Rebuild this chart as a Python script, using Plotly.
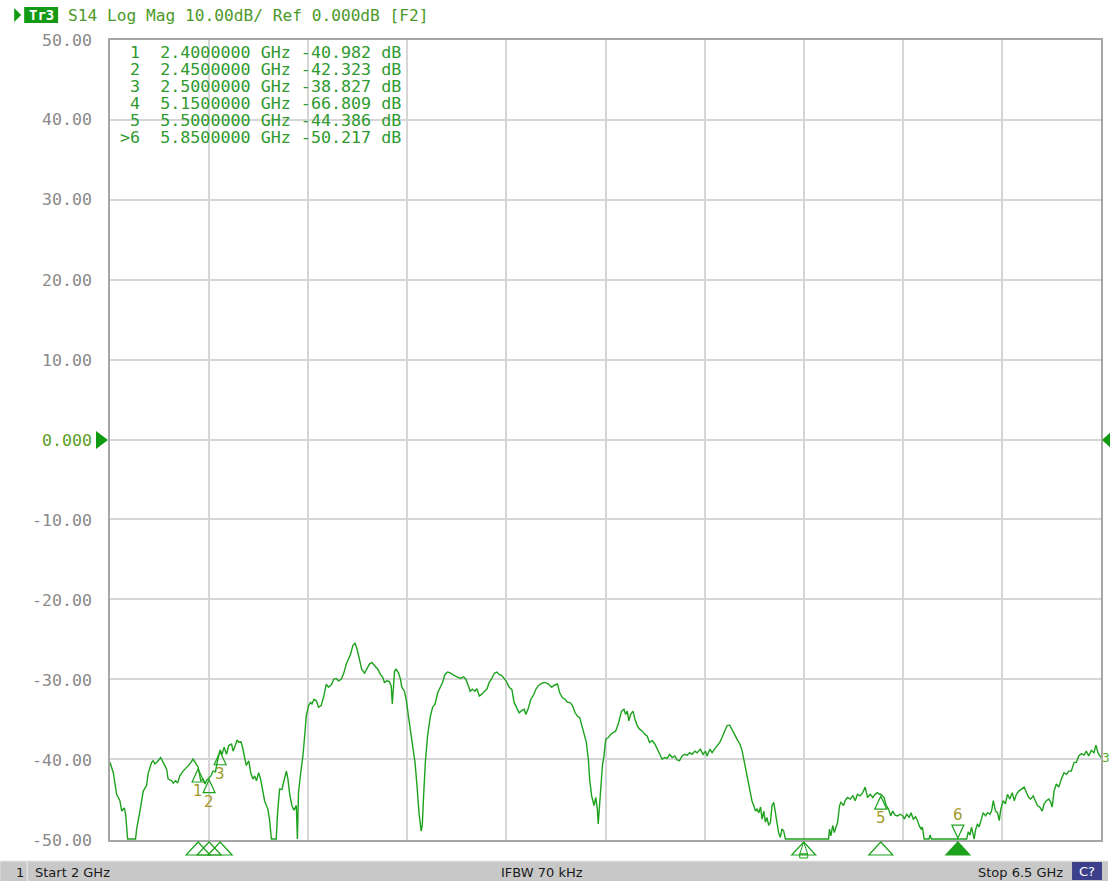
import plotly.graph_objects as go

# ---------------- data ----------------
freq_ghz = [
    2.000, 2.015, 2.030, 2.045, 2.053, 2.065, 2.071, 2.080, 2.116, 2.121,
    2.136, 2.151, 2.166, 2.174, 2.189, 2.196, 2.204, 2.216, 2.230, 2.242,
    2.257, 2.264, 2.280, 2.287, 2.298, 2.307, 2.317, 2.332, 2.348, 2.363,
    2.377, 2.388, 2.400, 2.412, 2.423, 2.431, 2.438, 2.450, 2.458, 2.468,
    2.479, 2.488, 2.500, 2.509, 2.518, 2.529, 2.539, 2.552, 2.559, 2.566,
    2.577, 2.585, 2.594, 2.600, 2.609, 2.619, 2.630, 2.639, 2.649, 2.657,
    2.665, 2.675, 2.684, 2.695, 2.702, 2.710, 2.717, 2.725, 2.733, 2.755,
    2.760, 2.770, 2.781, 2.790, 2.801, 2.808, 2.816, 2.826, 2.835, 2.842,
    2.846, 2.851, 2.856, 2.866, 2.876, 2.884, 2.891, 2.902, 2.911, 2.917,
    2.926, 2.937, 2.947, 2.959, 2.971, 2.982, 2.992, 3.005, 3.016, 3.027,
    3.038, 3.050, 3.062, 3.073, 3.083, 3.092, 3.103, 3.113, 3.122, 3.133,
    3.143, 3.156, 3.168, 3.178, 3.189, 3.201, 3.216, 3.228, 3.239, 3.246,
    3.258, 3.269, 3.277, 3.282, 3.287, 3.292, 3.299, 3.310, 3.319, 3.325,
    3.337, 3.346, 3.355, 3.364, 3.374, 3.385, 3.394, 3.403, 3.413, 3.418,
    3.424, 3.432, 3.442, 3.455, 3.465, 3.476, 3.488, 3.500, 3.510, 3.521,
    3.533, 3.545, 3.560, 3.576, 3.591, 3.606, 3.616, 3.627, 3.636, 3.646,
    3.657, 3.666, 3.677, 3.687, 3.699, 3.712, 3.722, 3.732, 3.745, 3.757,
    3.767, 3.778, 3.787, 3.798, 3.813, 3.825, 3.835, 3.846, 3.858, 3.870,
    3.881, 3.888, 3.900, 3.911, 3.921, 3.934, 3.945, 3.961, 3.976, 3.991,
    4.006, 4.017, 4.032, 4.042, 4.054, 4.066, 4.077, 4.088, 4.100, 4.112,
    4.122, 4.133, 4.142, 4.153, 4.163, 4.172, 4.178, 4.187, 4.198, 4.206,
    4.213, 4.217, 4.224, 4.230, 4.236, 4.243, 4.251, 4.263, 4.274, 4.284,
    4.296, 4.308, 4.314, 4.323, 4.334, 4.341, 4.349, 4.356, 4.364, 4.375,
    4.384, 4.394, 4.405, 4.417, 4.429, 4.439, 4.450, 4.462, 4.474, 4.485,
    4.496, 4.507, 4.520, 4.530, 4.541, 4.553, 4.565, 4.575, 4.586, 4.598,
    4.610, 4.621, 4.632, 4.643, 4.656, 4.666, 4.681, 4.693, 4.704, 4.711,
    4.724, 4.734, 4.745, 4.757, 4.769, 4.779, 4.790, 4.802, 4.814, 4.825,
    4.836, 4.847, 4.860, 4.870, 4.878, 4.885, 4.893, 4.900, 4.908, 4.915,
    4.923, 4.931, 4.938, 4.946, 4.954, 4.961, 4.969, 4.976, 4.983, 4.991,
    4.999, 5.006, 5.014, 5.021, 5.029, 5.036, 5.044, 5.051, 5.059, 5.067,
    5.263, 5.267, 5.273, 5.282, 5.289, 5.298, 5.304, 5.313, 5.319, 5.331,
    5.338, 5.349, 5.361, 5.373, 5.384, 5.394, 5.406, 5.418, 5.429, 5.440,
    5.452, 5.464, 5.474, 5.485, 5.494, 5.500, 5.515, 5.524, 5.535, 5.545,
    5.554, 5.565, 5.576, 5.588, 5.600, 5.607, 5.618, 5.629, 5.637, 5.648,
    5.658, 5.667, 5.674, 5.683, 5.689, 5.697, 5.719, 5.724, 5.730, 5.890,
    5.897, 5.905, 5.912, 5.924, 5.930, 5.939, 5.946, 5.955, 5.965, 5.976,
    5.985, 5.996, 6.003, 6.011, 6.021, 6.030, 6.038, 6.045, 6.056, 6.066,
    6.075, 6.086, 6.097, 6.106, 6.116, 6.127, 6.139, 6.151, 6.162, 6.172,
    6.181, 6.192, 6.202, 6.211, 6.222, 6.233, 6.242, 6.252, 6.263, 6.272,
    6.278, 6.287, 6.297, 6.308, 6.320, 6.332, 6.343, 6.354, 6.365, 6.378,
    6.388, 6.399, 6.411, 6.423, 6.433, 6.444, 6.456, 6.468, 6.477, 6.486,
    6.500,
]

s14_db = [
    -40.4, -41.7, -44.4, -45.2, -46.5, -46.1, -46.9, -50.0, -50.0, -48.75,
    -46.5, -44.0, -43.3, -41.7, -40.4, -40.2, -40.6, -40.3, -39.8, -40.4,
    -41.25, -42.5, -42.7, -43.0, -42.7, -43.0, -42.1, -41.5, -41.0, -40.6,
    -40.0, -40.4, -40.98, -42.7, -42.5, -43.1, -42.7, -42.32, -42.1, -41.5,
    -41.6, -40.2, -38.83, -39.4, -38.5, -39.4, -38.3, -38.1, -39.0, -38.5,
    -37.6, -37.9, -37.8, -38.3, -39.6, -40.8, -40.2, -41.7, -42.5, -42.1,
    -42.7, -41.7, -42.5, -44.2, -45.2, -45.8, -46.25, -47.7, -50.0, -50.0,
    -47.1, -43.75, -43.8, -42.7, -41.5, -42.5, -44.4, -45.8, -46.4, -46.0,
    -45.8, -50.0, -44.2, -41.7, -39.6, -37.1, -34.6, -33.3, -32.9, -33.1,
    -32.5, -32.7, -33.5, -33.3, -32.1, -30.6, -31.0, -30.7, -30.0, -29.9,
    -30.2, -30.0, -29.2, -28.1, -27.5, -26.9, -25.75, -25.5, -26.25, -27.7,
    -28.75, -29.25, -28.5, -28.1, -27.9, -28.3, -28.75, -29.4, -29.8, -30.4,
    -30.2, -30.3, -30.9, -33.1, -31.25, -29.0, -28.75, -29.2, -30.0, -31.0,
    -31.5, -32.7, -34.6, -36.25, -38.3, -40.4, -43.3, -46.7, -49.0, -48.3,
    -44.6, -40.4, -37.1, -34.6, -33.5, -33.1, -31.7, -31.0, -30.4, -29.4,
    -29.1, -29.2, -29.5, -29.7, -29.9, -29.7, -30.0, -30.8, -31.5, -31.25,
    -31.5, -31.2, -32.1, -31.9, -31.5, -31.2, -30.4, -30.0, -29.25, -29.1,
    -29.4, -29.5, -29.8, -30.2, -31.0, -31.3, -32.9, -33.5, -34.2, -33.9,
    -33.75, -34.4, -33.6, -32.5, -32.1, -31.25, -30.8, -30.5, -30.4, -30.6,
    -31.0, -30.75, -30.6, -31.7, -32.3, -32.5, -32.9, -32.9, -33.3, -34.2,
    -34.6, -34.8, -35.8, -36.9, -37.9, -40.0, -42.5, -44.6, -45.8, -44.8,
    -46.25, -48.1, -45.0, -42.5, -40.8, -39.6, -37.5, -37.3, -36.9, -36.7,
    -36.5, -35.6, -35.0, -34.0, -33.75, -34.4, -34.0, -35.2, -34.4, -34.0,
    -35.0, -35.8, -36.25, -36.5, -36.9, -37.1, -37.9, -37.7, -38.1, -38.75,
    -39.4, -40.0, -39.8, -39.9, -39.4, -39.8, -39.6, -40.1, -40.2, -39.6,
    -39.4, -39.5, -39.2, -39.4, -39.0, -39.2, -38.75, -39.4, -39.0, -39.6,
    -38.75, -39.2, -38.75, -38.3, -37.9, -37.3, -36.5, -35.8, -35.75, -36.25,
    -36.9, -37.5, -38.1, -38.9, -40.0, -41.0, -42.5, -43.5, -44.6, -45.2,
    -45.8, -46.5, -46.25, -46.7, -46.0, -47.5, -46.5, -47.9, -47.3, -48.3,
    -47.9, -45.8, -45.4, -46.7, -47.9, -49.2, -49.8, -48.75, -49.0, -50.0,
    -50.0, -48.75, -49.6, -48.3, -49.2, -48.3, -47.9, -45.8, -45.4, -45.8,
    -45.2, -44.8, -45.0, -44.6, -45.2, -44.4, -44.6, -44.2, -43.5, -44.8,
    -44.4, -44.8, -44.4, -44.2, -44.4, -44.39, -44.8, -45.8, -46.25, -47.1,
    -46.5, -47.0, -47.1, -46.9, -47.1, -47.5, -46.9, -47.3, -46.7, -47.5,
    -47.2, -47.7, -48.3, -48.75, -48.5, -50.0, -50.0, -49.5, -50.0, -50.0,
    -49.1, -49.5, -48.5, -50.0, -48.9, -48.1, -48.5, -47.7, -46.7, -47.1,
    -46.7, -46.9, -46.5, -45.2, -46.5, -46.7, -47.7, -46.25, -45.2, -45.6,
    -44.4, -45.0, -44.2, -45.2, -44.4, -44.0, -43.75, -43.5, -44.2, -44.8,
    -45.0, -44.6, -45.2, -45.8, -46.0, -46.5, -45.6, -45.2, -45.0, -45.4,
    -46.0, -44.0, -43.1, -43.5, -42.5, -41.7, -41.9, -41.5, -41.5, -40.4,
    -40.4, -39.6, -39.3, -39.5, -39.0, -39.6, -38.9, -39.2, -38.25, -39.2,
    -39.8,
]

marker_ids = ["1", "2", "3", "4", "5", "6"]
marker_freq_ghz = [2.40, 2.45, 2.50, 5.15, 5.50, 5.85]
marker_db = [-40.982, -42.323, -38.827, -66.809, -44.386, -50.217]
active_marker = "6"

y_tick_vals = [50, 40, 30, 20, 10, 0, -10, -20, -30, -40, -50]
y_tick_text = ["50.00", "40.00", "30.00", "20.00", "10.00", "0.000",
               "-10.00", "-20.00", "-30.00", "-40.00", "-50.00"]

x_start_ghz, x_stop_ghz, x_div_ghz = 2.0, 6.5, 0.45
y_bottom, y_top = -50, 50

header_text = "S14 Log Mag 10.00dB/ Ref 0.000dB [F2]"
trace_tag = "Tr3"
status_left = "Start 2 GHz"
status_mid = "IFBW 70 kHz"
status_right = "Stop 6.5 GHz"
channel_no = "1"

# ---------------- layout geometry ----------------
W, H = 1110, 881
ML, MR, MT, MB = 110, 7, 40, 41
PW, PH = W - ML - MR, H - MT - MB

def px(x):
    return (x - ML) / PW

def py(y):
    return (H - MB - y) / PH

TRACE = "#1ea21e"
GREEN_TXT = "#2f9a2f"
MARK_TXT = "#a39a2a"
GRID = "#d6d6d6"
AXLINE = "#a6a6a6"
MONO = "DejaVu Sans Mono"

NB = "\u00a0"

fig = go.Figure()

disp_db = [max(v, y_bottom) for v in s14_db]
fig.add_trace(go.Scatter(x=freq_ghz, y=disp_db, mode="lines",
                         line=dict(color=TRACE, width=1.4),
                         hoverinfo="skip", showlegend=False))

shapes = []
annotations = []

# markers on trace
for mid, f, d in zip(marker_ids, marker_freq_ghz, marker_db):
    if d < y_bottom - 0.5:
        continue  # off-scale marker (shown only at the bottom)
    if d <= y_bottom:
        yd = y_bottom
        shapes.append(dict(type="path", xref="x", yref="y",
                           xsizemode="pixel", ysizemode="pixel",
                           xanchor=f, yanchor=yd,
                           path="M0,1 L-6,14 L6,14 Z",
                           line=dict(color=TRACE, width=1.2),
                           fillcolor="rgba(0,0,0,0)"))
        annotations.append(dict(x=f, y=yd, xref="x", yref="y", text=mid,
                                showarrow=False, yshift=24,
                                font=dict(family="DejaVu Sans", size=15, color=MARK_TXT)))
    else:
        shapes.append(dict(type="path", xref="x", yref="y",
                           xsizemode="pixel", ysizemode="pixel",
                           xanchor=f, yanchor=d,
                           path="M0,-2 L-6,-15 L6,-15 Z",
                           line=dict(color=TRACE, width=1.2),
                           fillcolor="rgba(0,0,0,0)"))
        annotations.append(dict(x=f, y=d, xref="x", yref="y", text=mid,
                                showarrow=False, yshift=-24,
                                font=dict(family="DejaVu Sans", size=15, color=MARK_TXT)))

# bottom stimulus indicators
for mid, f, d in zip(marker_ids, marker_freq_ghz, marker_db):
    filled = (mid == active_marker)
    shapes.append(dict(type="path", xref="x", yref="paper",
                       xsizemode="pixel", ysizemode="pixel",
                       xanchor=f, yanchor=0,
                       path="M0,-2 L-12,-15 L12,-15 Z",
                       line=dict(color=TRACE, width=1.2),
                       fillcolor=TRACE if filled else "rgba(0,0,0,0)"))
    if d < y_bottom - 0.5:
        shapes.append(dict(type="path", xref="x", yref="paper",
                           xsizemode="pixel", ysizemode="pixel",
                           xanchor=f, yanchor=0,
                           path="M0,-2 L-4,-14 L4,-14 Z",
                           line=dict(color=TRACE, width=1.0),
                           fillcolor="rgba(0,0,0,0)"))
        shapes.append(dict(type="path", xref="x", yref="paper",
                           xsizemode="pixel", ysizemode="pixel",
                           xanchor=f, yanchor=0,
                           path="M-4,-14 L4,-14 L4,-18 L-4,-18 Z",
                           line=dict(color=TRACE, width=1.0),
                           fillcolor="rgba(0,0,0,0)"))

# reference level arrows (0 dB)
shapes.append(dict(type="path", xref="paper", yref="paper",
                   path=f"M{px(96)},{py(431)} L{px(108)},{py(440)} L{px(96)},{py(449)} Z",
                   line=dict(color="#109a10", width=0), fillcolor="#109a10"))
shapes.append(dict(type="path", xref="paper", yref="paper",
                   path=f"M{px(1113)},{py(432)} L{px(1104)},{py(440)} L{px(1113)},{py(448)} Z",
                   line=dict(color="#109a10", width=0), fillcolor="#109a10"))

# header
shapes.append(dict(type="path", xref="paper", yref="paper",
                   path=f"M{px(14)},{py(8)} L{px(21)},{py(15)} L{px(14)},{py(22)} Z",
                   line=dict(color="#109a10", width=0), fillcolor="#109a10"))
shapes.append(dict(type="rect", xref="paper", yref="paper",
                   x0=px(24), x1=px(58), y0=py(23), y1=py(7),
                   line=dict(width=0), fillcolor="#159a15"))
annotations.append(dict(x=px(41), y=py(15), xref="paper", yref="paper",
                        text=f"<b>{trace_tag}</b>", showarrow=False,
                        xanchor="center", yanchor="middle",
                        font=dict(family=MONO, size=14, color="white")))
annotations.append(dict(x=px(66), y=py(15), xref="paper", yref="paper",
                        text=header_text.replace(" ", NB), showarrow=False,
                        xanchor="left", yanchor="middle",
                        font=dict(family=MONO, size=16.2, color="#4c9a2a")))

# marker table
for i, (mid, f, d) in enumerate(zip(marker_ids, marker_freq_ghz, marker_db)):
    prefix = ">" if mid == active_marker else " "
    row = f"{prefix}{mid}  {f:.7f} GHz {d:.3f} dB"
    annotations.append(dict(x=px(118), y=py(52 + 17 * i), xref="paper", yref="paper",
                            text=row.replace(" ", NB), showarrow=False,
                            xanchor="left", yanchor="middle",
                            font=dict(family=MONO, size=16.7, color=GREEN_TXT)))

# y tick labels
for v, t in zip(y_tick_vals, y_tick_text):
    col = "#5a9e22" if v == 0 else "#8a8a8a"
    annotations.append(dict(x=px(94), y=py(40 + (y_top - v) * 8), xref="paper", yref="paper",
                            text=t, showarrow=False, xanchor="right", yanchor="middle",
                            font=dict(family=MONO, size=16.6, color=col)))

# trace end tag
annotations.append(dict(x=px(1102), y=py(758), xref="paper", yref="paper",
                        text="3", showarrow=False, xanchor="left", yanchor="middle",
                        font=dict(family="DejaVu Sans", size=12, color="#4caa2a")))

# status bar
shapes.append(dict(type="rect", xref="paper", yref="paper",
                   x0=px(0), x1=px(1110), y0=py(881), y1=py(861),
                   line=dict(width=0), fillcolor="#c8c8c8", layer="above"))
shapes.append(dict(type="line", xref="paper", yref="paper",
                   x0=px(0), x1=px(1110), y0=py(861), y1=py(861),
                   line=dict(color="#e8e8e8", width=1)))
shapes.append(dict(type="line", xref="paper", yref="paper",
                   x0=px(27), x1=px(27), y0=py(881), y1=py(862),
                   line=dict(color="#f0f0f0", width=1)))
shapes.append(dict(type="rect", xref="paper", yref="paper",
                   x0=px(1074), x1=px(1104), y0=py(880), y1=py(862),
                   line=dict(width=0), fillcolor="#3c3f8a"))
bar_font = dict(family="DejaVu Sans", size=13, color="#1a1a1a")
annotations.append(dict(x=px(14), y=py(872), xref="paper", yref="paper", text=channel_no,
                        showarrow=False, xanchor="left", yanchor="middle", font=bar_font))
annotations.append(dict(x=px(33), y=py(872), xref="paper", yref="paper", text=status_left,
                        showarrow=False, xanchor="left", yanchor="middle", font=bar_font))
annotations.append(dict(x=px(543), y=py(872), xref="paper", yref="paper", text=status_mid,
                        showarrow=False, xanchor="center", yanchor="middle", font=bar_font))
annotations.append(dict(x=px(1067), y=py(872), xref="paper", yref="paper", text=status_right,
                        showarrow=False, xanchor="right", yanchor="middle", font=bar_font))
annotations.append(dict(x=px(1089), y=py(871), xref="paper", yref="paper", text="C?",
                        showarrow=False, xanchor="center", yanchor="middle",
                        font=dict(family="DejaVu Sans", size=13, color="white")))

fig.update_layout(
    width=W, height=H,
    margin=dict(l=ML, r=MR, t=MT, b=MB, pad=0),
    paper_bgcolor="white", plot_bgcolor="white",
    showlegend=False,
    shapes=shapes, annotations=annotations,
    xaxis=dict(range=[x_start_ghz, x_stop_ghz], tick0=x_start_ghz, dtick=x_div_ghz,
               showticklabels=False, ticks="", showgrid=True, gridcolor=GRID, gridwidth=1.5,
               zeroline=False, showline=True, mirror=True, linecolor=AXLINE, linewidth=1.5,
               layer="below traces", fixedrange=True),
    yaxis=dict(range=[y_bottom - 0.12, y_top], tick0=0, dtick=10,
               showticklabels=False, ticks="", showgrid=True, gridcolor=GRID, gridwidth=1.5,
               zeroline=False, showline=True, mirror=True, linecolor=AXLINE, linewidth=1.5,
               layer="below traces", fixedrange=True),
)

fig.write_html("out.html", config={"displayModeBar": False},
               post_script="document.body.style.margin='0';")
